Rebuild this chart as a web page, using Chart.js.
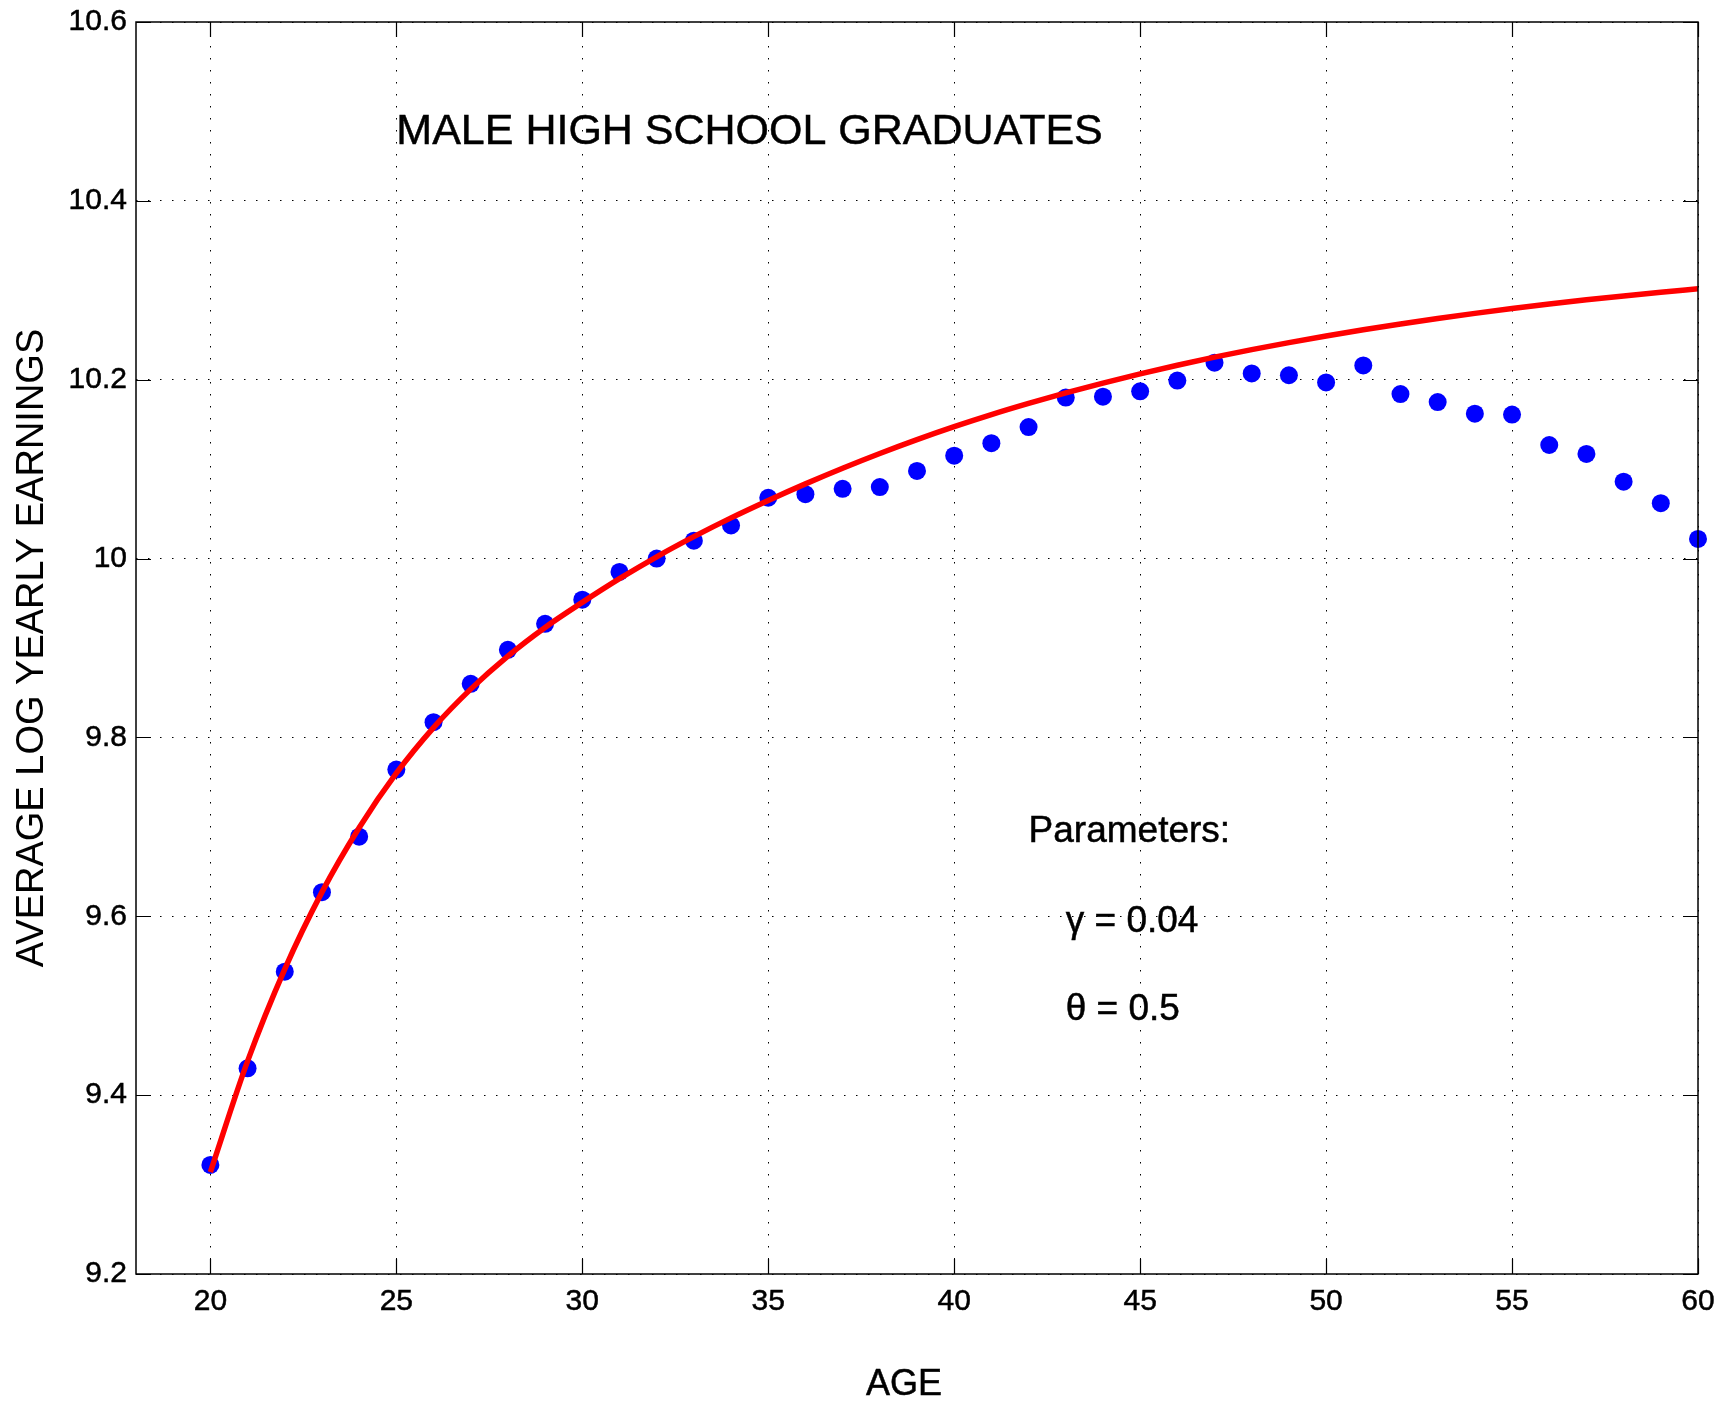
<!DOCTYPE html>
<html>
<head>
<meta charset="utf-8">
<script src="https://cdn.jsdelivr.net/npm/chart.js@4.4.1/dist/chart.umd.min.js"></script>
<style>
  body { margin: 0; background: #fff; }
  canvas { display: block; }
</style>
</head>
<body>
<canvas id="chart" width="1720" height="1403"></canvas>
<script>
// age groups on the x axis
const ages = [20, 21, 22, 23, 24, 25, 26, 27, 28, 29, 30, 31, 32, 33, 34, 35, 36, 37, 38, 39, 40,
              41, 42, 43, 44, 45, 46, 47, 48, 49, 50, 51, 52, 53, 54, 55, 56, 57, 58, 59, 60];

// observed average log yearly earnings (blue dots)
const observed = [9.322, 9.430, 9.538, 9.627, 9.689, 9.764, 9.817, 9.860, 9.898, 9.927, 9.954,
                  9.985, 10.000, 10.020, 10.037, 10.068, 10.072, 10.078, 10.080, 10.098, 10.115,
                  10.129, 10.147, 10.180, 10.181, 10.187, 10.199, 10.219, 10.207, 10.205, 10.197,
                  10.216, 10.184, 10.175, 10.162, 10.161, 10.127, 10.117, 10.086, 10.062, 10.022];

// model curve (red line)
const fitted = [9.314, 9.438, 9.541, 9.627, 9.699, 9.760, 9.811, 9.854, 9.891, 9.923, 9.951,
                9.9775, 10.002, 10.0245, 10.0455, 10.065, 10.0835, 10.101, 10.1175, 10.133, 10.1475,
                10.161, 10.1735, 10.1852, 10.1962, 10.2066, 10.2162, 10.2252, 10.2336, 10.2415, 10.2489,
                10.2559, 10.2624, 10.2685, 10.2742, 10.2796, 10.2846, 10.2893, 10.2937, 10.2978, 10.3017];

const xTicks = [20, 25, 30, 35, 40, 45, 50, 55, 60];
const xTickLabels = ['20', '25', '30', '35', '40', '45', '50', '55', '60'];
const yTicks = [9.2, 9.4, 9.6, 9.8, 10.0, 10.2, 10.4, 10.6];
const yTickLabels = ['9.2', '9.4', '9.6', '9.8', '10', '10.2', '10.4', '10.6'];

// text placed inside the axes (data coordinates)
const noteTexts = ['MALE HIGH SCHOOL GRADUATES', 'Parameters:', 'γ = 0.04', 'θ = 0.5'];
const noteX = [25, 42, 43, 43];
const noteY = [10.477, 9.695, 9.594, 9.495];

const xLabel = 'AGE';
const yLabel = 'AVERAGE LOG YEARLY EARNINGS';

const FONT = "'Liberation Sans', Arial, Helvetica, sans-serif";

// frame, inward tick marks, x label and the text notes, matlab style
const matlabAxes = {
    id: 'matlabAxes',
    afterDatasetsDraw(chart) {
        const {ctx, chartArea: a, scales: {x, y}} = chart;
        ctx.save();
        ctx.strokeStyle = '#000';
        ctx.lineWidth = 1.5;
        ctx.strokeRect(a.left, a.top, a.right - a.left, a.bottom - a.top);

        const len = 15;
        ctx.lineWidth = 1.2;
        ctx.beginPath();
        xTicks.forEach(v => {
            const px = Math.round(x.getPixelForValue(v)) + 0.5;
            ctx.moveTo(px, a.bottom); ctx.lineTo(px, a.bottom - len);
            ctx.moveTo(px, a.top); ctx.lineTo(px, a.top + len);
        });
        yTicks.forEach(v => {
            const py = Math.round(y.getPixelForValue(v)) + 0.5;
            ctx.moveTo(a.left, py); ctx.lineTo(a.left + len, py);
            ctx.moveTo(a.right, py); ctx.lineTo(a.right - len, py);
        });
        ctx.stroke();

        ctx.fillStyle = '#000';
        ctx.lineWidth = 0.5;
        ctx.textAlign = 'left';
        ctx.textBaseline = 'middle';
        noteTexts.forEach((t, i) => {
            ctx.font = (i === 0 ? 43 : 37) + 'px ' + FONT;
            const px = x.getPixelForValue(noteX[i]), py = y.getPixelForValue(noteY[i]);
            ctx.fillText(t, px, py);
            ctx.strokeText(t, px, py);
        });

        // x label sits a bit left of the axes centre in the original
        ctx.textAlign = 'center';
        ctx.font = '36px ' + FONT;
        ctx.fillText(xLabel, x.getPixelForValue(38.65), chart.height - 18);
        ctx.strokeText(xLabel, x.getPixelForValue(38.65), chart.height - 18);
        ctx.restore();
    }
};

const tickFont = {family: FONT, size: 30};

new Chart(document.getElementById('chart'), {
    type: 'scatter',
    data: {
        datasets: [
            {
                type: 'line',
                label: 'model',
                data: ages.map((a, i) => ({x: a, y: fitted[i]})),
                borderColor: '#ff0000',
                borderWidth: 5.5,
                pointRadius: 0,
                cubicInterpolationMode: 'monotone',
                fill: false,
                order: 0
            },
            {
                type: 'scatter',
                label: 'data',
                data: ages.map((a, i) => ({x: a, y: observed[i]})),
                backgroundColor: '#0000ff',
                borderWidth: 0,
                pointRadius: 9,
                clip: false,
                order: 1
            }
        ]
    },
    options: {
        responsive: false,
        animation: false,
        devicePixelRatio: 1,
        layout: {padding: {top: 22, right: 22, left: 0, bottom: 0}},
        plugins: {legend: {display: false}, tooltip: {enabled: false}},
        scales: {
            x: {
                type: 'linear',
                min: 18,
                max: 60,
                afterBuildTicks: s => { s.ticks = xTicks.map(v => ({value: v})); },
                afterFit: s => { s.height = 129; s.paddingLeft = 0; s.paddingRight = 0; },
                ticks: {
                    color: '#000',
                    font: tickFont,
                    padding: 10,
                    maxRotation: 0,
                    textStrokeColor: '#000',
                    textStrokeWidth: 0.5,
                    callback: (v, i) => xTickLabels[i]
                },
                grid: {color: '#000', lineWidth: 1, drawTicks: false},
                border: {display: false, dash: [1.5, 10.5]}
            },
            y: {
                min: 9.2,
                max: 10.6,
                afterBuildTicks: s => { s.ticks = yTicks.map(v => ({value: v})); },
                afterFit: s => { s.width = 136; s.paddingTop = 0; s.paddingBottom = 0; },
                ticks: {
                    color: '#000',
                    font: tickFont,
                    padding: 9,
                    textStrokeColor: '#000',
                    textStrokeWidth: 0.5,
                    callback: (v, i) => yTickLabels[i]
                },
                grid: {color: '#000', lineWidth: 1, drawTicks: false},
                border: {display: false, dash: [1.5, 10.5]},
                title: {
                    display: true,
                    text: yLabel,
                    color: '#000',
                    font: {family: FONT, size: 38},
                    padding: {top: 10, bottom: 0}
                }
            }
        }
    },
    plugins: [matlabAxes]
});
</script>
</body>
</html>
